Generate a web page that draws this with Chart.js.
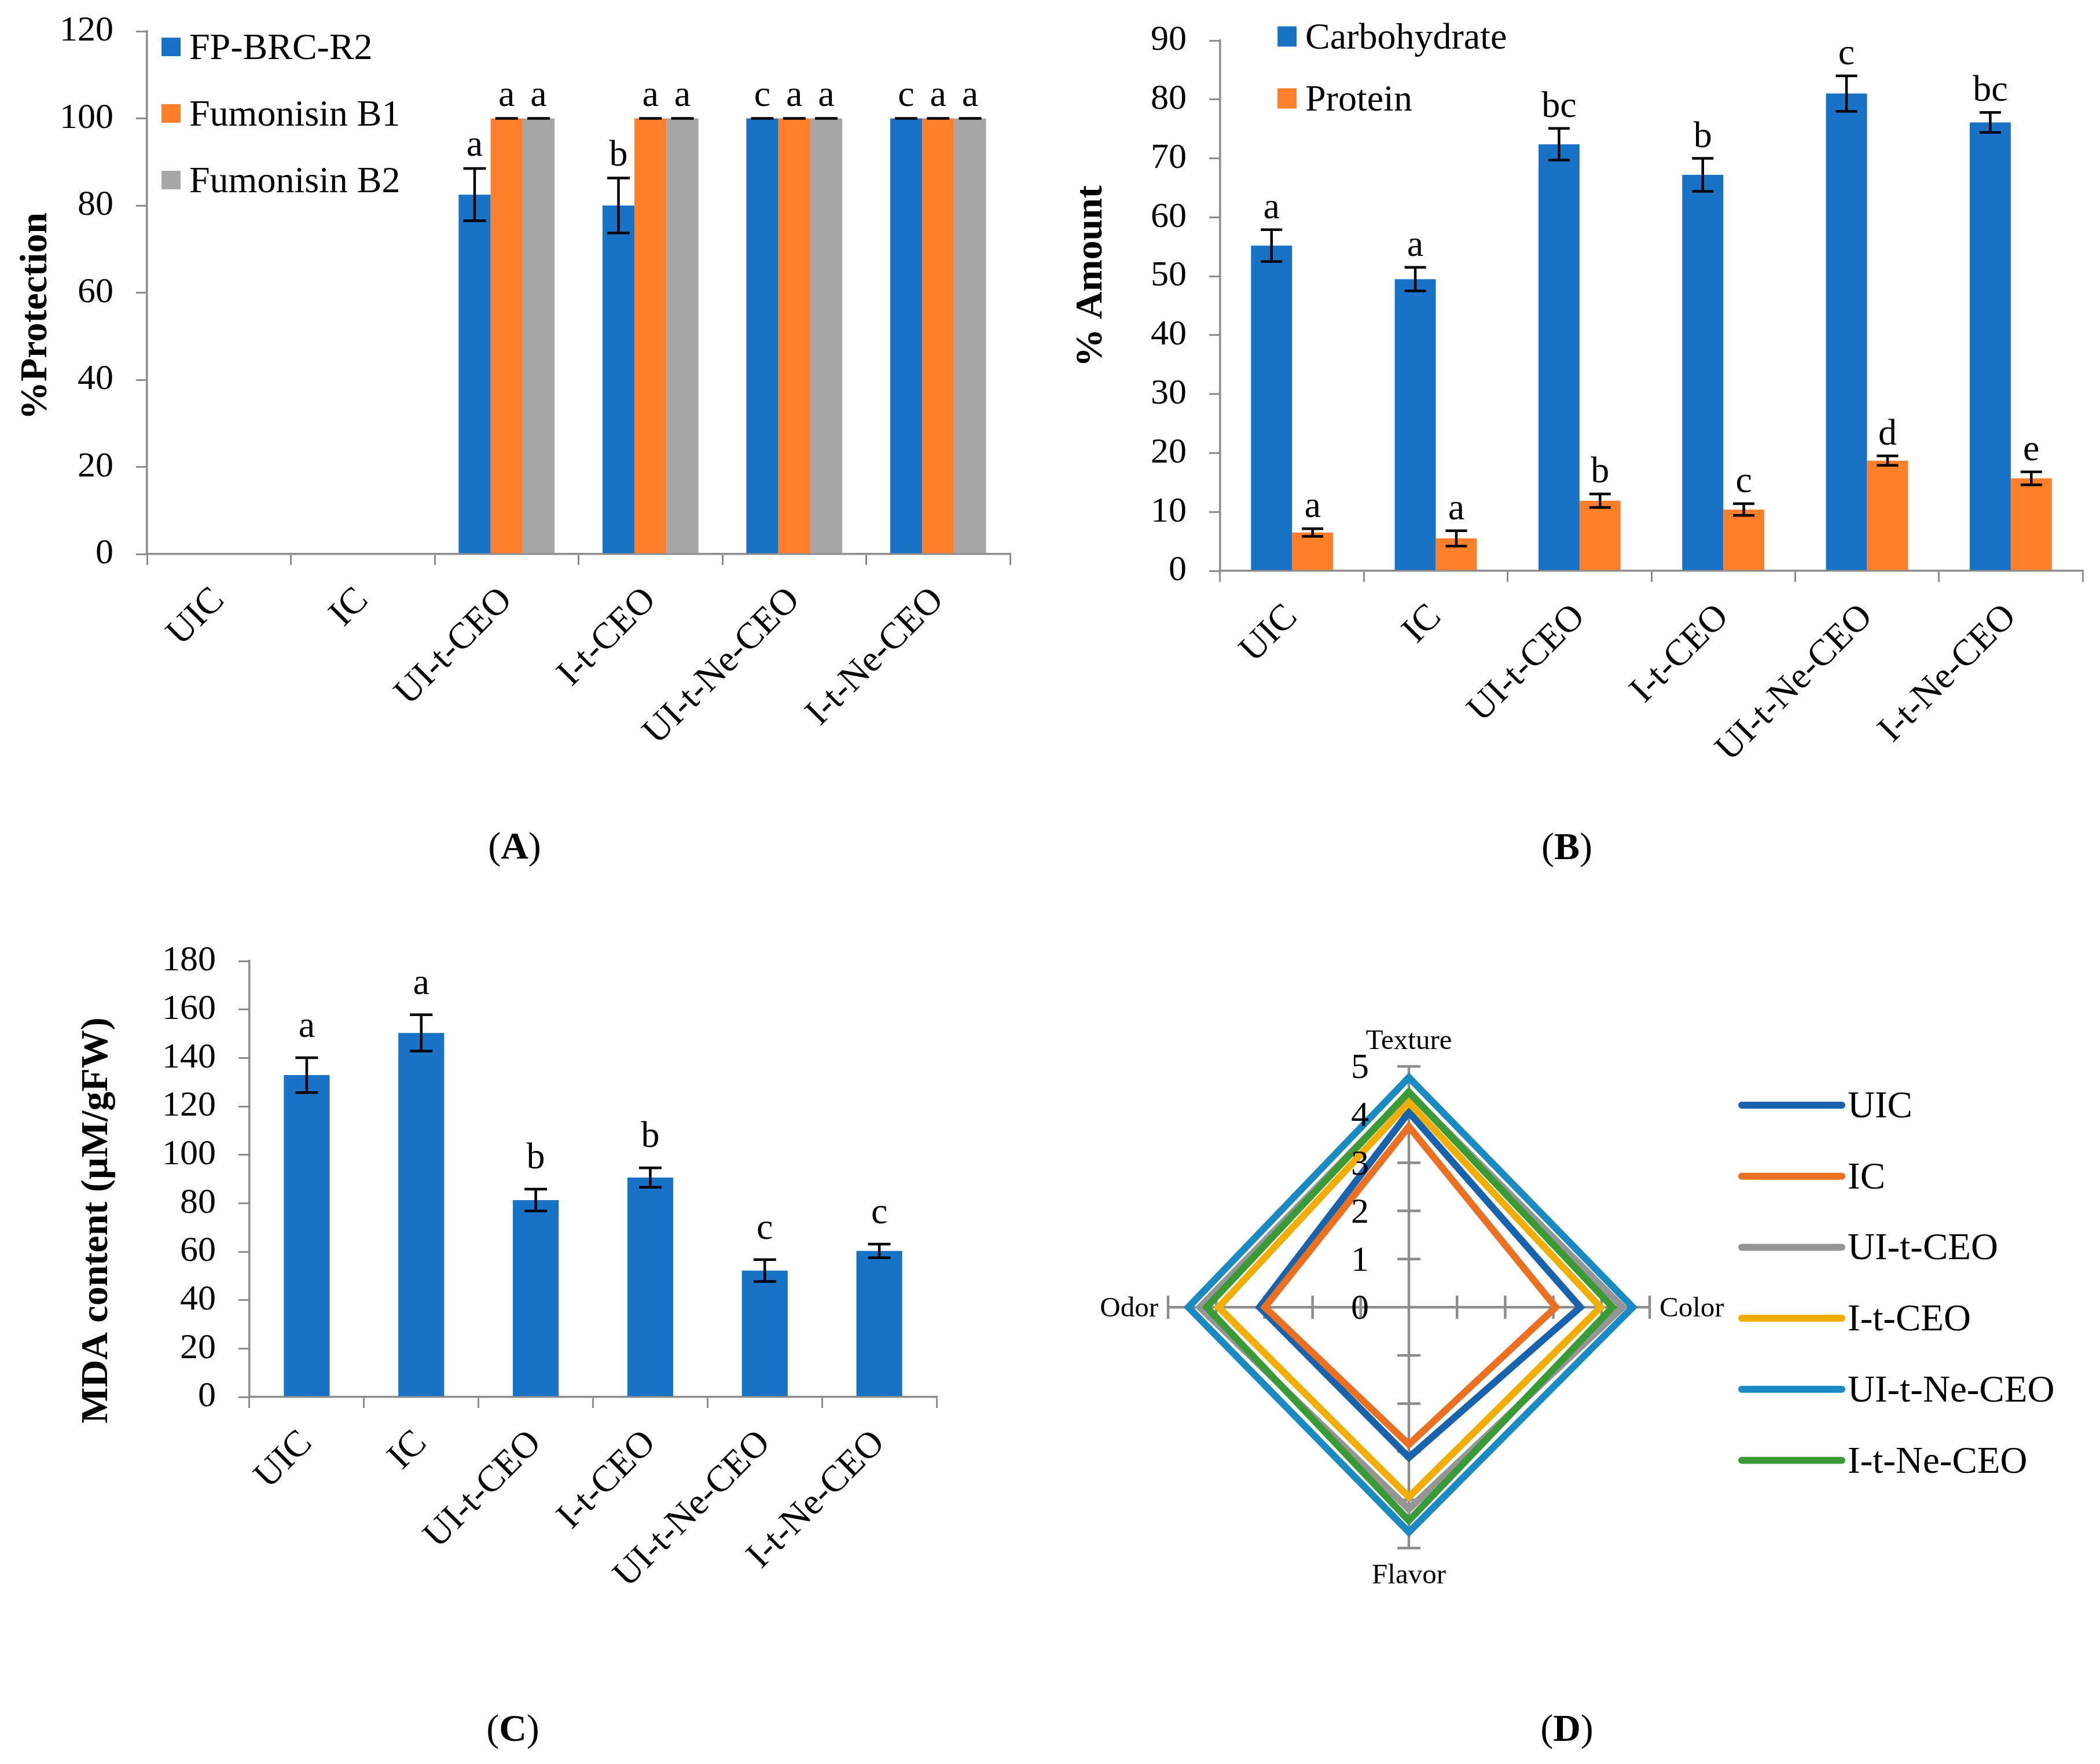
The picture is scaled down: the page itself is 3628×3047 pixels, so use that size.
<!DOCTYPE html>
<html>
<head>
<meta charset="utf-8">
<script src="https://cdn.jsdelivr.net/npm/chart.js@4.4.1/dist/chart.umd.min.js"></script>
<style>
  html, body { margin: 0; padding: 0; background: #fff; }
  #page { position: relative; width: 3628px; height: 3047px; overflow: hidden; background: #fff;
          font-family: 'Liberation Serif', 'Times New Roman', Times, serif; }
  canvas { position: absolute; }
  .tag { position: absolute; font-size: 66px; color: #000; transform: translate(-50%, -50%); white-space: nowrap; }
</style>
</head>
<body>
<div id="page">
  <canvas id="chartA" width="1814" height="1546" style="left:0;top:-26px"></canvas>
  <canvas id="chartB" width="1814" height="1530" style="left:1814px;top:-10px"></canvas>
  <canvas id="chartC" width="1814" height="1527" style="left:0;top:1520px"></canvas>
  <canvas id="chartD" width="1814" height="1527" style="left:1814px;top:1520px"></canvas>
  <div class="tag" style="left:889px;top:1461px">(<b>A</b>)</div>
  <div class="tag" style="left:2707px;top:1462px">(<b>B</b>)</div>
  <div class="tag" style="left:886px;top:2985px">(<b>C</b>)</div>
  <div class="tag" style="left:2707px;top:2985px">(<b>D</b>)</div>
</div>
<script>
// treatments, shared by all four panels
const groups = ["UIC", "IC", "UI-t-CEO", "I-t-CEO", "UI-t-Ne-CEO", "I-t-Ne-CEO"];

// (A) % protection
const fpProtection = [0, 0, 82.5, 80, 100, 100];
const fpProtectionErr = [null, null, 6, 6.3, 0, 0];
const fpLetters = ["", "", "a", "b", "c", "c"];
const fb1Protection = [0, 0, 100, 100, 100, 100];
const fb1Err = [null, null, 0, 0, 0, 0];
const fb1Letters = ["", "", "a", "a", "a", "a"];
const fb2Protection = [0, 0, 100, 100, 100, 100];
const fb2Err = [null, null, 0, 0, 0, 0];
const fb2Letters = ["", "", "a", "a", "a", "a"];
const protectionTicks = [0, 20, 40, 60, 80, 100, 120];

// (B) % amount
const carbohydrate = [55.2, 49.5, 72.4, 67.2, 81.0, 76.1];
const carbohydrateErr = [2.7, 2.0, 2.7, 2.8, 3.0, 1.7];
const carbohydrateLetters = ["a", "a", "bc", "b", "c", "bc"];
const protein = [6.5, 5.5, 11.9, 10.4, 18.7, 15.7];
const proteinErr = [0.65, 1.3, 1.15, 1.0, 0.8, 1.1];
const proteinLetters = ["a", "a", "b", "c", "d", "e"];
const amountTicks = [0, 10, 20, 30, 40, 50, 60, 70, 80, 90];

// (C) MDA content
const mda = [132.9, 150.3, 81.3, 90.6, 52.2, 60.3];
const mdaErr = [7.2, 7.5, 4.5, 4.0, 4.5, 2.8];
const mdaLetters = ["a", "a", "b", "b", "c", "c"];
const mdaTicks = [0, 20, 40, 60, 80, 100, 120, 140, 160, 180];

// (D) sensory scores: Texture, Color, Flavor, Odor
const sensoryAttrs = ["Texture", "Color", "Flavor", "Odor"];
const uicScores = [4.05, 3.56, 3.12, 3.1];
const icScores = [3.75, 3.05, 2.85, 2.99];
const uiCeoScores = [4.45, 4.44, 4.19, 4.34];
const iCeoScores = [4.25, 3.98, 3.94, 3.95];
const uiNeCeoScores = [4.77, 4.65, 4.67, 4.58];
const iNeCeoScores = [4.47, 4.23, 4.43, 4.2];
const sensoryTicks = [0, 1, 2, 3, 4, 5];

const FONT = "'Liberation Serif', 'Times New Roman', Times, serif";
Chart.defaults.font.family = FONT;
Chart.defaults.color = "#000";

const AXIS_GREY = "#8c8c8c";
const BLUE = "#1873c7";
const ORANGE = "#fd7f2a";
const GREY = "#a6a6a6";

// error bars, letters, boxed legend and y title for the bar panels
const barExtras = {
  id: "barExtras",
  afterDatasetsDraw(chart, args, o) {
    const { ctx } = chart;
    const y = chart.scales.y;
    ctx.save();
    chart.data.datasets.forEach((ds, d) => {
      const meta = chart.getDatasetMeta(d);
      meta.data.forEach((bar, i) => {
        const v = ds.data[i];
        const e = ds.errors ? ds.errors[i] : null;
        let top = y.getPixelForValue(v);
        if (e !== null && e !== undefined) {
          const hi = y.getPixelForValue(v + e);
          const lo = y.getPixelForValue(v - e);
          const c = o.cap / 2;
          ctx.strokeStyle = "#000";
          ctx.lineWidth = 4.5;
          ctx.beginPath();
          ctx.moveTo(bar.x, hi); ctx.lineTo(bar.x, lo);
          ctx.moveTo(bar.x - c, hi); ctx.lineTo(bar.x + c, hi);
          ctx.moveTo(bar.x - c, lo); ctx.lineTo(bar.x + c, lo);
          ctx.stroke();
          top = hi;
        }
        const letter = ds.letters ? ds.letters[i] : "";
        if (letter) {
          ctx.fillStyle = "#000";
          ctx.font = `64px ${FONT}`;
          ctx.textAlign = "center";
          ctx.textBaseline = "alphabetic";
          ctx.fillText(letter, bar.x, top - o.letterGap);
        }
      });
    });
    ctx.restore();
  },
  afterDraw(chart, args, o) {
    const { ctx } = chart;
    ctx.save();
    const lg = o.legend;
    if (lg) {
      ctx.font = `64px ${FONT}`;
      ctx.textAlign = "left";
      ctx.textBaseline = "middle";
      chart.data.datasets.forEach((ds, k) => {
        const cy = lg.y + k * lg.dy;
        ctx.fillStyle = ds.backgroundColor;
        ctx.fillRect(lg.x, cy - lg.boxH / 2, lg.boxW, lg.boxH);
        ctx.fillStyle = "#000";
        ctx.fillText(ds.label, lg.textX, cy + 4);
      });
    }
    const t = o.title;
    ctx.translate(t.x, t.y);
    ctx.rotate(-Math.PI / 2);
    ctx.font = `bold 66px ${FONT}`;
    ctx.textAlign = "center";
    ctx.textBaseline = "alphabetic";
    ctx.fillStyle = "#000";
    ctx.fillText(t.text, 0, 0);
    ctx.restore();
  },
};

function barOptions({ ticks, max, yWidth, padding, extras }) {
  return {
    responsive: false,
    animation: false,
    devicePixelRatio: 1,
    layout: { padding },
    plugins: {
      legend: { display: false },
      tooltip: { enabled: false },
      barExtras: extras,
    },
    scales: {
      x: {
        grid: { display: true, drawOnChartArea: false, drawTicks: true, tickLength: 19, color: AXIS_GREY, lineWidth: 3, offset: true },
        border: { display: true, color: AXIS_GREY, width: 3.5 },
        ticks: { font: { size: 64 }, minRotation: 45, maxRotation: 45, padding: 24, autoSkip: false },
        afterFit(s) { s.height = 400; },
      },
      y: {
        min: 0,
        max,
        afterBuildTicks(s) { s.ticks = ticks.map((v) => ({ value: v })); },
        grid: { drawOnChartArea: false, drawTicks: true, tickLength: 19, color: AXIS_GREY, lineWidth: 3 },
        border: { display: true, color: AXIS_GREY, width: 3.5 },
        ticks: { font: { size: 62 }, padding: 39 },
        afterFit(s) { s.width = yWidth; },
      },
    },
  };
}

new Chart(document.getElementById("chartA"), {
  type: "bar",
  data: {
    labels: groups,
    datasets: [
      { label: "FP-BRC-R2", data: fpProtection, errors: fpProtectionErr, letters: fpLetters, backgroundColor: BLUE },
      { label: "Fumonisin B1", data: fb1Protection, errors: fb1Err, letters: fb1Letters, backgroundColor: ORANGE },
      { label: "Fumonisin B2", data: fb2Protection, errors: fb2Err, letters: fb2Letters, backgroundColor: GREY },
    ].map((d) => ({ ...d, borderWidth: 0, barPercentage: 1, categoryPercentage: 0.667 })),
  },
  options: barOptions({
    ticks: protectionTicks, max: 120, yWidth: 254,
    padding: { left: 0, top: 80, right: 69, bottom: 163 },
    extras: {
      cap: 39, letterGap: 22,
      legend: { x: 279, textX: 327, y: 107, dy: 115, boxW: 33, boxH: 32 },
      title: { text: "%Protection", x: 80, y: 572 },
    },
  }),
  plugins: [barExtras],
});

new Chart(document.getElementById("chartB"), {
  type: "bar",
  data: {
    labels: groups,
    datasets: [
      { label: "Carbohydrate", data: carbohydrate, errors: carbohydrateErr, letters: carbohydrateLetters, backgroundColor: BLUE },
      { label: "Protein", data: protein, errors: proteinErr, letters: proteinLetters, backgroundColor: ORANGE },
    ].map((d) => ({ ...d, borderWidth: 0, barPercentage: 1, categoryPercentage: 0.571 })),
  },
  options: barOptions({
    ticks: amountTicks, max: 90, yWidth: 294,
    padding: { left: 0, top: 80, right: 30, bottom: 134 },
    extras: {
      cap: 37, letterGap: 20,
      legend: { x: 393, textX: 441, y: 73, dy: 107, boxW: 33, boxH: 35 },
      title: { text: "% Amount", x: 89, y: 487 },
    },
  }),
  plugins: [barExtras],
});

new Chart(document.getElementById("chartC"), {
  type: "bar",
  data: {
    labels: groups,
    datasets: [
      { label: "MDA", data: mda, errors: mdaErr, letters: mdaLetters, backgroundColor: BLUE,
        borderWidth: 0, barPercentage: 1, categoryPercentage: 0.40 },
    ],
  },
  options: barOptions({
    ticks: mdaTicks, max: 180, yWidth: 431,
    padding: { left: 0, top: 140, right: 196, bottom: 234 },
    extras: {
      cap: 39, letterGap: 36,
      legend: null,
      title: { text: "MDA content (µM/gFW)", x: 185, y: 588 },
    },
  }),
  plugins: [barExtras],
});

// axis tick marks, value labels, attribute labels and line legend for the radar
const radarExtras = {
  id: "radarExtras",
  beforeDatasetsDraw(chart) {
    const r = chart.scales.r;
    const { ctx } = chart;
    ctx.save();
    ctx.strokeStyle = AXIS_GREY;
    ctx.lineWidth = 4.5;
    for (let i = 0; i < chart.data.labels.length; i++) {
      const a = r.getIndexAngle(i) - Math.PI / 2;
      const px = -Math.sin(a) * 20, py = Math.cos(a) * 20;
      r.ticks.forEach((t) => {
        if (t.value === 0) return;
        const p = r.getPointPositionForValue(i, t.value);
        ctx.beginPath();
        ctx.moveTo(p.x - px, p.y - py);
        ctx.lineTo(p.x + px, p.y + py);
        ctx.stroke();
      });
    }
    ctx.restore();
  },
  afterDraw(chart, args, o) {
    const r = chart.scales.r;
    const { ctx } = chart;
    ctx.save();
    ctx.fillStyle = "#000";
    ctx.font = `62px ${FONT}`;
    ctx.textAlign = "right";
    ctx.textBaseline = "middle";
    r.ticks.forEach((t) => {
      const p = r.getPointPositionForValue(0, t.value);
      ctx.fillText(String(t.value), r.xCenter - 69, p.y + 4);
    });

    ctx.font = `49px ${FONT}`;
    chart.data.labels.forEach((lab, i) => {
      const a = r.getIndexAngle(i) - Math.PI / 2;
      const c = Math.cos(a), s = Math.sin(a);
      if (Math.abs(s) > 0.5) {
        const p = r.getPointPosition(i, r.drawingArea + (s < 0 ? 30 : 24));
        ctx.textAlign = "center";
        ctx.textBaseline = s < 0 ? "alphabetic" : "top";
        ctx.fillText(lab, p.x, p.y);
      } else {
        const p = r.getPointPosition(i, r.drawingArea + 17);
        ctx.textAlign = c > 0 ? "left" : "right";
        ctx.textBaseline = "middle";
        ctx.fillText(lab, p.x, p.y + 3);
      }
    });

    const lg = o.legend;
    ctx.font = `65px ${FONT}`;
    ctx.textAlign = "left";
    ctx.textBaseline = "middle";
    ctx.lineCap = "round";
    ctx.lineWidth = 12;
    chart.data.datasets.forEach((ds, k) => {
      const cy = lg.y + k * lg.dy;
      ctx.strokeStyle = ds.borderColor;
      ctx.beginPath();
      ctx.moveTo(lg.x1, cy);
      ctx.lineTo(lg.x2, cy);
      ctx.stroke();
      ctx.fillText(ds.label, lg.textX, cy + 4);
    });
    ctx.restore();
  },
};

const radarSeries = [
  { label: "UIC", data: uicScores, borderColor: "#1763ae" },
  { label: "IC", data: icScores, borderColor: "#eb7021" },
  { label: "UI-t-CEO", data: uiCeoScores, borderColor: "#959595" },
  { label: "I-t-CEO", data: iCeoScores, borderColor: "#f2ae00" },
  { label: "UI-t-Ne-CEO", data: uiNeCeoScores, borderColor: "#1a8ac2" },
  { label: "I-t-Ne-CEO", data: iNeCeoScores, borderColor: "#3a9a35" },
];

new Chart(document.getElementById("chartD"), {
  type: "radar",
  data: {
    labels: sensoryAttrs,
    // later series sit on top, as in the original
    datasets: radarSeries.map((d, i) => ({
      ...d, order: radarSeries.length - i, fill: false, borderWidth: 12,
      borderJoinStyle: "miter", pointRadius: 0, pointHoverRadius: 0, tension: 0,
    })),
  },
  options: {
    responsive: false,
    animation: false,
    devicePixelRatio: 1,
    layout: { padding: { left: 204, right: 778, top: 322, bottom: 373 } },
    plugins: {
      legend: { display: false },
      tooltip: { enabled: false },
      radarExtras: { legend: { x1: 1195, x2: 1368, textX: 1378, y: 389, dy: 122.7 } },
    },
    scales: {
      r: {
        min: 0,
        max: 5,
        afterBuildTicks(s) { s.ticks = sensoryTicks.map((v) => ({ value: v })); },
        ticks: { display: false },
        grid: { display: false },
        angleLines: { display: true, color: AXIS_GREY, lineWidth: 4.5 },
        pointLabels: { display: false },
      },
    },
  },
  plugins: [radarExtras],
});
</script>
</body>
</html>
